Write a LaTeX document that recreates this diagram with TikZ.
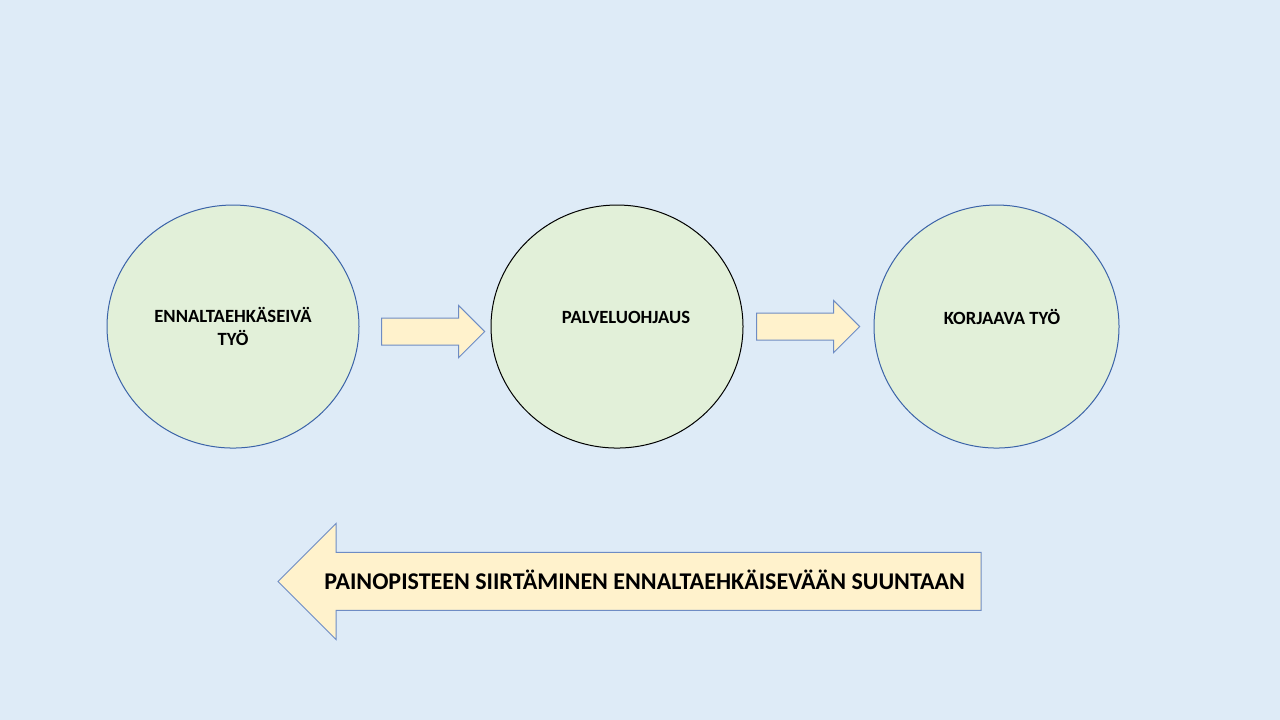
\documentclass[tikz,border=0pt]{standalone}
\usepackage{fontspec}
\setmainfont{Carlito}
\usetikzlibrary{shapes,arrows,positioning}

\definecolor{slideblue}{HTML}{DEEBF7}
\definecolor{stagegreen}{HTML}{E2F0D9}
\definecolor{stageline}{HTML}{3B63A8}
\definecolor{arrowyellow}{HTML}{FFF2CC}
\definecolor{arrowline}{HTML}{6E8CC4}

\begin{document}
\begin{tikzpicture}[
    stage/.style={ellipse, draw=stageline, line width=0.75pt, fill=stagegreen, minimum width=189pt, minimum height=182.25pt, inner sep=0pt, outer sep=0pt},
    stagetext/.style={font=\bfseries\fontsize{14}{17.25}\selectfont, align=center, inner sep=0pt},
    flow/.style={single arrow, draw=arrowline, line width=0.75pt, fill=arrowyellow, minimum height=77.25pt, inner xsep=0pt, inner ysep=9.75pt, outer sep=0pt, single arrow head extend=9.4pt},
    shiftflow/.style={flow, minimum height=527.25pt, inner ysep=21.375pt, single arrow head extend=21.75pt, shape border rotate=180}]

    % slide background
    \fill[slideblue] (0,0) rectangle (960pt,-540pt);
    \useasboundingbox (0,0) rectangle (960pt,-540pt);

    % three stages
    \node[stage] (prevent) at (174.75pt,-244.9pt) {};
    \node[stage, draw=black, right=99pt of prevent] (guide) {};
    \node[stage, minimum width=183.75pt, right=98.25pt of guide] (repair) {};

    \node[stagetext] (preventtxt) at (prevent) {ENNALTAEHKÄSEIVÄ\\TYÖ};
    \node[stagetext, text height=9pt, text depth=0pt, xshift=6.75pt, yshift=6.75pt] (guidetxt) at (guide) {PALVELUOHJAUS};
    \node[stagetext, text height=9pt, text depth=0pt, xshift=4.1pt, yshift=6.4pt] (repairtxt) at (repair) {KORJAAVA TYÖ};

    % arrows between stages
    \node[flow, right=17pt of prevent, yshift=-3.75pt] (step1) {};
    \node[flow, right=10.25pt of guide] (step2) {};

    % big arrow back to prevention
    \node[shiftflow, anchor=tip] (shift) at (208.5pt,-436.1pt) {};
    \node[stagetext, font=\bfseries\fontsize{18}{21}\selectfont, text height=11.6pt, text depth=0pt, left=12pt of shift.tail] (shifttxt) {PAINOPISTEEN SIIRTÄMINEN ENNALTAEHKÄISEVÄÄN SUUNTAAN};

\end{tikzpicture}
\end{document}
